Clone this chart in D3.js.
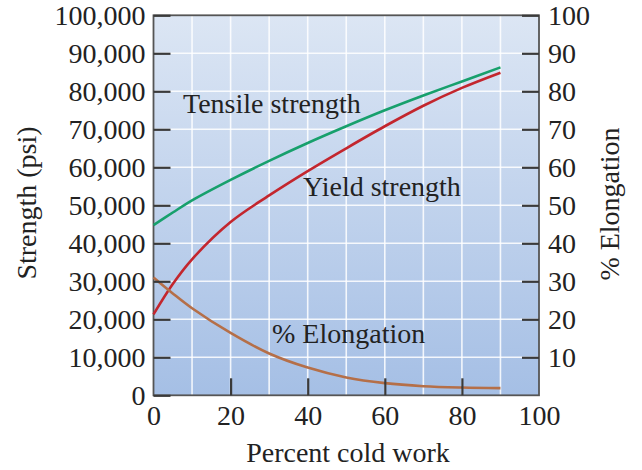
<!DOCTYPE html>
<html>
<head>
<meta charset="utf-8">
<script src="https://cdn.jsdelivr.net/npm/d3@7"></script>
<style>
  html, body { margin: 0; padding: 0; background: #fff; }
  svg text { font-family: "Liberation Serif", "Times New Roman", serif; fill: #222; }
</style>
</head>
<body>
<svg id="chart" width="642" height="470"></svg>
<script>
// ---- data ----
const percentColdWork = [0, 5, 10, 20, 30, 40, 50, 60, 70, 80, 90];
const tensileStrength = [44800, 48100, 51300, 56700, 61700, 66400, 70800, 75000, 78900, 82600, 86300];
const yieldStrength   = [21300, 29300, 35800, 45600, 52600, 59000, 65000, 70800, 76200, 80900, 84900];
const elongation      = [31, 26.8, 22.9, 16.4, 11.0, 7.3, 4.7, 3.2, 2.4, 2.05, 1.9];

const xTicks = [0, 20, 40, 60, 80, 100];
const xGrid = [10, 20, 30, 40, 50, 60, 70, 80, 90];
const leftTicks = [0, 10000, 20000, 30000, 40000, 50000, 60000, 70000, 80000, 90000, 100000];
const rightTicks = [10, 20, 30, 40, 50, 60, 70, 80, 90, 100];

const curveLabels = ["Tensile strength", "Yield strength", "% Elongation"];

// ---- layout ----
const svg = d3.select("#chart");
const L = 153.5, R = 539, T = 15.3, B = 395.3;
const x = d3.scaleLinear().domain([0, 100]).range([L, R]);
const yL = d3.scaleLinear().domain([0, 100000]).range([B, T]);
const yR = d3.scaleLinear().domain([0, 100]).range([B, T]);

const defs = svg.append("defs");
const grad = defs.append("linearGradient").attr("id", "bg").attr("x1", 0).attr("y1", 0).attr("x2", 0).attr("y2", 1);
grad.append("stop").attr("offset", "0%").attr("stop-color", "#dce6f4");
grad.append("stop").attr("offset", "100%").attr("stop-color", "#a5bfe5");

svg.append("rect").attr("x", L).attr("y", T).attr("width", R - L).attr("height", B - T).attr("fill", "url(#bg)");

// grid
const grid = svg.append("g").attr("stroke", "#ffffff").attr("stroke-width", 1.6).attr("stroke-opacity", 0.85);
grid.selectAll("line.v").data(xGrid).join("line")
  .attr("x1", d => x(d)).attr("x2", d => x(d)).attr("y1", T).attr("y2", B);
grid.selectAll("line.h").data(leftTicks.slice(1, -1)).join("line")
  .attr("x1", L).attr("x2", R).attr("y1", d => yL(d)).attr("y2", d => yL(d));

// frame
svg.append("rect").attr("x", L).attr("y", T).attr("width", R - L).attr("height", B - T)
  .attr("fill", "none").attr("stroke", "#555").attr("stroke-width", 1.8);

// lines
const line = (ys, sc) => d3.line().x((d, i) => x(percentColdWork[i])).y(d => sc(d)).curve(d3.curveCatmullRom.alpha(0.5))(ys);
svg.append("path").attr("d", line(tensileStrength, yL)).attr("fill", "none").attr("stroke", "#17a06c").attr("stroke-width", 2.6);
svg.append("path").attr("d", line(yieldStrength, yL)).attr("fill", "none").attr("stroke", "#c3262e").attr("stroke-width", 2.6);
svg.append("path").attr("d", line(elongation, yR)).attr("fill", "none").attr("stroke", "#b56f48").attr("stroke-width", 2.6);

// axes
const fmt = d3.format(",");
const styleAxis = g => {
  g.select(".domain").remove();
  g.selectAll(".tick line").attr("stroke", "#3a3a3a").attr("stroke-width", 2.2);
  g.selectAll(".tick text").attr("font-size", 28).attr("fill", "#222")
    .attr("font-family", '"Liberation Serif", "Times New Roman", serif');
};
svg.append("g").attr("transform", `translate(${L},0)`)
  .call(d3.axisLeft(yL).tickValues(leftTicks).tickFormat(fmt).tickSize(-17).tickPadding(8))
  .call(styleAxis)
  .call(g => g.selectAll(".tick text").attr("dy", "0.34em"));
svg.append("g").attr("transform", `translate(${R},0)`)
  .call(d3.axisRight(yR).tickValues(rightTicks).tickSize(-17).tickPadding(9))
  .call(styleAxis)
  .call(g => g.selectAll(".tick text").attr("dy", "0.34em"));
svg.append("g").attr("transform", `translate(0,${B})`)
  .call(d3.axisBottom(x).tickValues(xTicks).tickSize(-17).tickPadding(10))
  .call(styleAxis)
  .call(g => g.selectAll(".tick line").filter(d => d === 0 || d === 100).remove());

// axis titles
svg.append("text").attr("x", 348).attr("y", 462).attr("text-anchor", "middle").attr("font-size", 28).text("Percent cold work");
svg.append("text").attr("transform", "translate(36,203) rotate(-90)").attr("text-anchor", "middle").attr("font-size", 28).text("Strength (psi)");
svg.append("text").attr("transform", "translate(619,204) rotate(-90)").attr("text-anchor", "middle").attr("font-size", 28).text("% Elongation");

// curve labels
svg.append("text").attr("x", 183).attr("y", 113).attr("font-size", 28).text(curveLabels[0]);
svg.append("text").attr("x", 303).attr("y", 196).attr("font-size", 28).text(curveLabels[1]);
svg.append("text").attr("x", 272).attr("y", 343).attr("font-size", 28).text(curveLabels[2]);
</script>
</body>
</html>
